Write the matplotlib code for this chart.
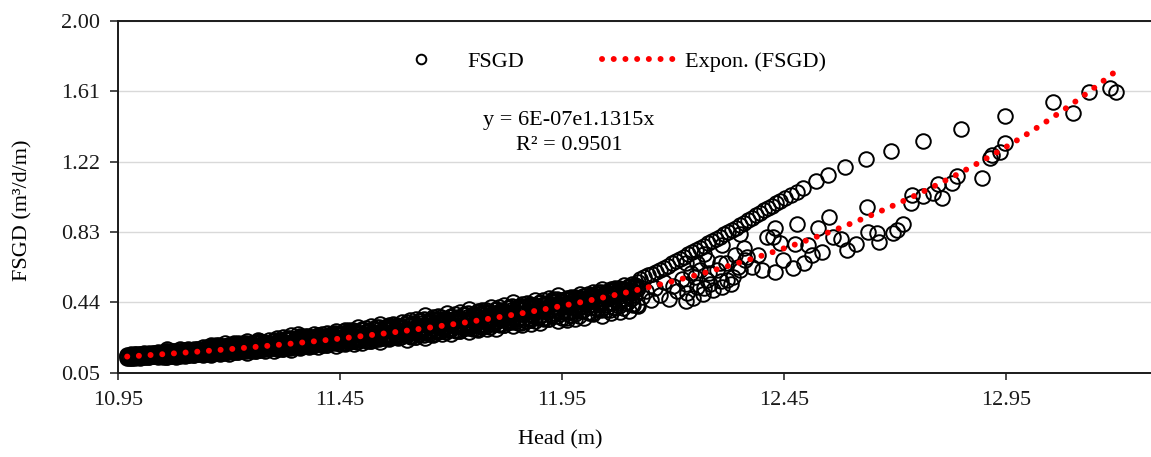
import matplotlib.pyplot as plt
import numpy as np

# dense part of the cloud (10.97 - 12.12 m), read as upper edge / middle / lower edge rows
band_head = [
    10.97, 10.98, 10.99, 11.00, 11.01, 11.02, 11.03, 11.04, 11.05, 11.06,
    11.07, 11.08, 11.09, 11.10, 11.11, 11.12, 11.13, 11.14, 11.15, 11.16,
    11.17, 11.18, 11.19, 11.20, 11.21, 11.22, 11.23, 11.24, 11.25, 11.26,
    11.27, 11.28, 11.29, 11.30, 11.31, 11.32, 11.33, 11.34, 11.35, 11.36,
    11.37, 11.38, 11.39, 11.40, 11.41, 11.42, 11.43, 11.44, 11.45, 11.46,
    11.47, 11.48, 11.49, 11.50, 11.51, 11.52, 11.53, 11.54, 11.55, 11.56,
    11.57, 11.58, 11.59, 11.60, 11.61, 11.62, 11.63, 11.64, 11.65, 11.66,
    11.67, 11.68, 11.69, 11.70, 11.71, 11.72, 11.73, 11.74, 11.75, 11.76,
    11.77, 11.78, 11.79, 11.80, 11.81, 11.82, 11.83, 11.84, 11.85, 11.86,
    11.87, 11.88, 11.89, 11.90, 11.91, 11.92, 11.93, 11.94, 11.95, 11.96,
    11.97, 11.98, 11.99, 12.00, 12.01, 12.02, 12.03, 12.04, 12.05, 12.06,
    12.07, 12.08, 12.09, 12.10, 12.11, 12.12,
]
band_hi = [
    0.149, 0.148, 0.155, 0.153, 0.151, 0.159, 0.158, 0.164, 0.164, 0.170,
    0.172, 0.169, 0.179, 0.175, 0.172, 0.183, 0.181, 0.190, 0.191, 0.200,
    0.201, 0.195, 0.211, 0.203, 0.198, 0.214, 0.211, 0.224, 0.211, 0.220,
    0.222, 0.216, 0.232, 0.232, 0.225, 0.245, 0.240, 0.257, 0.240, 0.251,
    0.254, 0.245, 0.266, 0.256, 0.249, 0.270, 0.265, 0.282, 0.271, 0.285,
    0.288, 0.277, 0.302, 0.290, 0.281, 0.306, 0.300, 0.321, 0.300, 0.314,
    0.317, 0.307, 0.332, 0.329, 0.319, 0.349, 0.342, 0.367, 0.340, 0.357,
    0.361, 0.348, 0.379, 0.363, 0.353, 0.384, 0.377, 0.402, 0.376, 0.393,
    0.397, 0.385, 0.416, 0.401, 0.391, 0.423, 0.416, 0.442, 0.412, 0.429,
    0.433, 0.423, 0.452, 0.439, 0.431, 0.461, 0.455, 0.480, 0.449, 0.463,
    0.468, 0.461, 0.486, 0.477, 0.472, 0.497, 0.494, 0.515, 0.499, 0.514,
    0.520, 0.513, 0.538, 0.530, 0.526, 0.552,
]
band_mid = [
    0.141, 0.137, 0.146, 0.143, 0.143, 0.150, 0.149, 0.145, 0.160, 0.152,
    0.158, 0.152, 0.165, 0.160, 0.159, 0.169, 0.168, 0.161, 0.184, 0.169,
    0.179, 0.167, 0.189, 0.180, 0.176, 0.192, 0.189, 0.177, 0.204, 0.189,
    0.200, 0.188, 0.210, 0.201, 0.196, 0.217, 0.212, 0.196, 0.231, 0.212,
    0.225, 0.209, 0.237, 0.225, 0.220, 0.241, 0.237, 0.221, 0.260, 0.237,
    0.253, 0.233, 0.267, 0.252, 0.246, 0.271, 0.265, 0.246, 0.289, 0.265,
    0.282, 0.263, 0.297, 0.282, 0.275, 0.305, 0.298, 0.273, 0.326, 0.297,
    0.317, 0.293, 0.335, 0.316, 0.309, 0.340, 0.333, 0.309, 0.362, 0.333,
    0.353, 0.330, 0.372, 0.354, 0.347, 0.379, 0.372, 0.349, 0.400, 0.374,
    0.393, 0.373, 0.412, 0.397, 0.391, 0.421, 0.415, 0.395, 0.439, 0.420,
    0.437, 0.422, 0.455, 0.444, 0.441, 0.466, 0.463, 0.449, 0.489, 0.471,
    0.488, 0.474, 0.507, 0.497, 0.495, 0.520,
]
band_lo = [
    0.130, 0.128, 0.135, 0.130, 0.135, 0.136, 0.140, 0.136, 0.137, 0.135,
    0.141, 0.138, 0.148, 0.140, 0.147, 0.147, 0.154, 0.146, 0.151, 0.149,
    0.156, 0.151, 0.164, 0.153, 0.162, 0.162, 0.170, 0.159, 0.171, 0.169,
    0.177, 0.172, 0.186, 0.168, 0.178, 0.178, 0.188, 0.174, 0.189, 0.186,
    0.195, 0.189, 0.206, 0.192, 0.202, 0.202, 0.213, 0.199, 0.210, 0.206,
    0.217, 0.210, 0.230, 0.213, 0.225, 0.225, 0.238, 0.221, 0.239, 0.235,
    0.247, 0.240, 0.259, 0.232, 0.248, 0.247, 0.263, 0.241, 0.263, 0.258,
    0.272, 0.263, 0.287, 0.266, 0.282, 0.281, 0.298, 0.276, 0.292, 0.286,
    0.302, 0.291, 0.320, 0.294, 0.313, 0.312, 0.331, 0.306, 0.323, 0.315,
    0.335, 0.321, 0.356, 0.323, 0.346, 0.345, 0.368, 0.336, 0.353, 0.343,
    0.367, 0.348, 0.392, 0.350, 0.379, 0.376, 0.405, 0.363, 0.394, 0.382,
    0.409, 0.388, 0.438, 0.390, 0.423, 0.420,
]

# the same band, readings that fall between the ones above
band_head2 = [
    10.975, 10.985, 10.995, 11.005, 11.015, 11.025, 11.035, 11.045, 11.055, 11.065,
    11.075, 11.085, 11.095, 11.105, 11.115, 11.125, 11.135, 11.145, 11.155, 11.165,
    11.175, 11.185, 11.195, 11.205, 11.215, 11.225, 11.235, 11.245, 11.255, 11.265,
    11.275, 11.285, 11.295, 11.305, 11.315, 11.325, 11.335, 11.345, 11.355, 11.365,
    11.375, 11.385, 11.395, 11.405, 11.415, 11.425, 11.435, 11.445, 11.455, 11.465,
    11.475, 11.485, 11.495, 11.505, 11.515, 11.525, 11.535, 11.545, 11.555, 11.565,
    11.575, 11.585, 11.595, 11.605, 11.615, 11.625, 11.635, 11.645, 11.655, 11.665,
    11.675, 11.685, 11.695, 11.705, 11.715, 11.725, 11.735, 11.745, 11.755, 11.765,
    11.775, 11.785, 11.795, 11.805, 11.815, 11.825, 11.835, 11.845, 11.855, 11.865,
    11.875, 11.885, 11.895, 11.905, 11.915, 11.925, 11.935, 11.945, 11.955, 11.965,
    11.975, 11.985, 11.995, 12.005, 12.015, 12.025, 12.035, 12.045, 12.055, 12.065,
    12.075, 12.085, 12.095, 12.105, 12.115,
]
band_q_hi = [
    0.144, 0.147, 0.146, 0.150, 0.153, 0.152, 0.155, 0.153, 0.161, 0.165,
    0.164, 0.168, 0.165, 0.170, 0.175, 0.172, 0.176, 0.173, 0.185, 0.191,
    0.187, 0.193, 0.187, 0.195, 0.202, 0.196, 0.202, 0.196, 0.205, 0.211,
    0.208, 0.214, 0.208, 0.220, 0.230, 0.221, 0.229, 0.221, 0.232, 0.240,
    0.235, 0.243, 0.235, 0.245, 0.254, 0.246, 0.254, 0.246, 0.262, 0.271,
    0.265, 0.274, 0.264, 0.276, 0.287, 0.277, 0.287, 0.276, 0.290, 0.300,
    0.294, 0.304, 0.294, 0.312, 0.326, 0.312, 0.324, 0.311, 0.328, 0.340,
    0.332, 0.344, 0.331, 0.346, 0.360, 0.347, 0.359, 0.347, 0.364, 0.376,
    0.369, 0.381, 0.369, 0.384, 0.399, 0.386, 0.399, 0.386, 0.402, 0.414,
    0.408, 0.420, 0.409, 0.424, 0.438, 0.428, 0.440, 0.430, 0.442, 0.452,
    0.449, 0.460, 0.453, 0.466, 0.479, 0.472, 0.483, 0.477, 0.492, 0.503,
    0.501, 0.512, 0.506, 0.520, 0.533,
]
band_q_lo = [
    0.133, 0.137, 0.135, 0.139, 0.142, 0.141, 0.144, 0.143, 0.146, 0.146,
    0.147, 0.152, 0.148, 0.154, 0.158, 0.155, 0.158, 0.157, 0.162, 0.162,
    0.162, 0.169, 0.164, 0.171, 0.176, 0.172, 0.176, 0.174, 0.182, 0.182,
    0.183, 0.190, 0.186, 0.190, 0.196, 0.190, 0.195, 0.192, 0.203, 0.202,
    0.204, 0.212, 0.206, 0.214, 0.221, 0.215, 0.220, 0.217, 0.227, 0.226,
    0.227, 0.236, 0.229, 0.239, 0.247, 0.240, 0.246, 0.242, 0.255, 0.255,
    0.256, 0.266, 0.259, 0.265, 0.275, 0.265, 0.273, 0.268, 0.284, 0.283,
    0.284, 0.296, 0.287, 0.299, 0.309, 0.300, 0.308, 0.303, 0.317, 0.315,
    0.317, 0.331, 0.320, 0.334, 0.345, 0.334, 0.343, 0.338, 0.353, 0.351,
    0.352, 0.369, 0.355, 0.371, 0.385, 0.371, 0.382, 0.375, 0.391, 0.388,
    0.389, 0.409, 0.391, 0.411, 0.428, 0.410, 0.423, 0.413, 0.437, 0.433,
    0.434, 0.458, 0.437, 0.460, 0.479,
]

# and a third set of band readings
band_head3 = [
    10.978, 10.988, 10.998, 11.008, 11.018, 11.028, 11.038, 11.048, 11.058, 11.068,
    11.078, 11.088, 11.098, 11.108, 11.118, 11.128, 11.138, 11.148, 11.158, 11.168,
    11.178, 11.188, 11.198, 11.208, 11.218, 11.228, 11.238, 11.248, 11.258, 11.268,
    11.278, 11.288, 11.298, 11.308, 11.318, 11.328, 11.338, 11.348, 11.358, 11.368,
    11.378, 11.388, 11.398, 11.408, 11.418, 11.428, 11.438, 11.448, 11.458, 11.468,
    11.478, 11.488, 11.498, 11.508, 11.518, 11.528, 11.538, 11.548, 11.558, 11.568,
    11.578, 11.588, 11.598, 11.608, 11.618, 11.628, 11.638, 11.648, 11.658, 11.668,
    11.678, 11.688, 11.698, 11.708, 11.718, 11.728, 11.738, 11.748, 11.758, 11.768,
    11.778, 11.788, 11.798, 11.808, 11.818, 11.828, 11.838, 11.848, 11.858, 11.868,
    11.878, 11.888, 11.898, 11.908, 11.918, 11.928, 11.938, 11.948, 11.958, 11.968,
    11.978, 11.988, 11.998, 12.008, 12.018, 12.028, 12.038, 12.048, 12.058, 12.068,
    12.078, 12.088, 12.098, 12.108, 12.118,
]
band_r_hi = [
    0.152, 0.150, 0.154, 0.156, 0.152, 0.156, 0.160, 0.159, 0.167, 0.167,
    0.171, 0.169, 0.174, 0.179, 0.173, 0.178, 0.183, 0.181, 0.195, 0.193,
    0.200, 0.195, 0.202, 0.209, 0.199, 0.207, 0.213, 0.209, 0.215, 0.214,
    0.221, 0.216, 0.223, 0.239, 0.225, 0.235, 0.243, 0.237, 0.245, 0.243,
    0.251, 0.245, 0.254, 0.263, 0.250, 0.260, 0.268, 0.262, 0.278, 0.275,
    0.285, 0.277, 0.287, 0.298, 0.282, 0.294, 0.304, 0.296, 0.306, 0.304,
    0.314, 0.307, 0.317, 0.340, 0.319, 0.333, 0.345, 0.335, 0.348, 0.345,
    0.357, 0.347, 0.360, 0.374, 0.354, 0.368, 0.381, 0.371, 0.384, 0.381,
    0.394, 0.385, 0.397, 0.412, 0.392, 0.407, 0.420, 0.411, 0.420, 0.418,
    0.431, 0.423, 0.436, 0.450, 0.433, 0.447, 0.460, 0.453, 0.456, 0.456,
    0.467, 0.463, 0.474, 0.487, 0.475, 0.488, 0.499, 0.495, 0.507, 0.508,
    0.519, 0.516, 0.527, 0.541, 0.529,
]
band_r_mid = [
    0.141, 0.140, 0.144, 0.144, 0.148, 0.145, 0.150, 0.153, 0.151, 0.156,
    0.159, 0.156, 0.161, 0.161, 0.167, 0.162, 0.167, 0.172, 0.168, 0.175,
    0.179, 0.173, 0.181, 0.180, 0.189, 0.179, 0.187, 0.194, 0.189, 0.196,
    0.200, 0.194, 0.202, 0.201, 0.212, 0.199, 0.210, 0.218, 0.211, 0.220,
    0.224, 0.217, 0.227, 0.225, 0.237, 0.224, 0.235, 0.243, 0.236, 0.247,
    0.252, 0.242, 0.254, 0.252, 0.266, 0.250, 0.263, 0.273, 0.265, 0.276,
    0.281, 0.272, 0.284, 0.282, 0.299, 0.279, 0.295, 0.306, 0.296, 0.309,
    0.315, 0.304, 0.318, 0.316, 0.334, 0.314, 0.330, 0.342, 0.332, 0.346,
    0.352, 0.341, 0.356, 0.355, 0.372, 0.353, 0.370, 0.382, 0.373, 0.386,
    0.393, 0.384, 0.398, 0.398, 0.415, 0.398, 0.414, 0.426, 0.420, 0.431,
    0.438, 0.432, 0.445, 0.446, 0.461, 0.450, 0.464, 0.475, 0.470, 0.482,
    0.490, 0.485, 0.498, 0.500, 0.515,
]
band_r_lo = [
    0.132, 0.131, 0.136, 0.136, 0.136, 0.140, 0.140, 0.145, 0.138, 0.142,
    0.144, 0.143, 0.150, 0.148, 0.147, 0.154, 0.153, 0.160, 0.152, 0.156,
    0.159, 0.157, 0.166, 0.164, 0.162, 0.170, 0.169, 0.177, 0.172, 0.177,
    0.180, 0.178, 0.187, 0.181, 0.178, 0.189, 0.186, 0.197, 0.190, 0.196,
    0.199, 0.196, 0.208, 0.205, 0.203, 0.214, 0.212, 0.222, 0.212, 0.218,
    0.222, 0.218, 0.232, 0.228, 0.226, 0.238, 0.236, 0.248, 0.240, 0.247,
    0.252, 0.248, 0.262, 0.251, 0.248, 0.263, 0.259, 0.275, 0.265, 0.273,
    0.278, 0.273, 0.290, 0.286, 0.282, 0.298, 0.295, 0.310, 0.294, 0.303,
    0.309, 0.303, 0.323, 0.317, 0.313, 0.332, 0.328, 0.346, 0.324, 0.336,
    0.343, 0.335, 0.359, 0.351, 0.346, 0.368, 0.363, 0.384, 0.355, 0.369,
    0.377, 0.366, 0.396, 0.386, 0.378, 0.405, 0.398, 0.425, 0.396, 0.412,
    0.421, 0.409, 0.443, 0.431, 0.422,
]

# upper branch above 12.1 m
upper_head = [
    12.126, 12.135, 12.144, 12.153, 12.162, 12.171, 12.180, 12.189, 12.198, 12.207,
    12.216, 12.225, 12.234, 12.243, 12.252, 12.261, 12.270, 12.279, 12.288, 12.297,
    12.306, 12.315, 12.324, 12.333, 12.342, 12.351, 12.360, 12.369, 12.378, 12.387,
    12.396, 12.405, 12.414, 12.423, 12.432, 12.441, 12.452, 12.466, 12.479, 12.493,
    12.522, 12.549, 12.587, 12.635, 12.691, 12.763, 12.849, 12.948, 13.056, 13.137,
    13.185, 13.198,
]
upper_fsgd = [
    0.569, 0.580, 0.591, 0.599, 0.608, 0.619, 0.630, 0.641, 0.655, 0.666,
    0.680, 0.691, 0.705, 0.716, 0.730, 0.741, 0.752, 0.766, 0.777, 0.791,
    0.802, 0.816, 0.830, 0.841, 0.854, 0.868, 0.882, 0.896, 0.907, 0.921,
    0.935, 0.949, 0.963, 0.976, 0.990, 1.001, 1.018, 1.035, 1.051, 1.074,
    1.112, 1.146, 1.190, 1.234, 1.279, 1.334, 1.401, 1.473, 1.551, 1.606,
    1.628, 1.606,
]

# scattered points under the upper branch, plus a few stray ones along the band
lower_head = [
    13.101, 12.948, 12.937, 12.918, 12.914, 12.896, 12.839, 12.828, 12.805, 12.798,
    12.785, 12.764, 12.738, 12.736, 12.719, 12.704, 12.696, 12.638, 12.640, 12.660,
    12.663, 12.612, 12.591, 12.578, 12.561, 12.552, 12.527, 12.535, 12.512, 12.505,
    12.479, 12.494, 12.475, 12.471, 12.448, 12.430, 12.426, 12.430,
    12.231, 12.253, 12.276, 12.291, 12.310, 12.321, 12.336, 12.351, 12.366, 12.392,
    12.411, 12.441, 12.253, 12.276, 12.306,
    12.401, 12.378, 12.362, 12.346, 12.330, 12.308, 12.283, 12.267, 12.245, 12.229,
    12.13, 12.14, 12.15, 12.16, 12.17, 12.18, 12.19, 12.20, 12.21, 12.22,
    12.23, 12.24, 12.25, 12.26, 12.28, 12.30, 12.32, 12.34, 12.36, 12.27,
    12.23, 12.27, 12.31, 12.35,
    11.06, 11.21, 11.264, 11.354,
]
lower_fsgd = [
    1.488, 1.322, 1.275, 1.257, 1.238, 1.131, 1.140, 1.100, 1.016, 1.096,
    1.048, 1.029, 1.035, 0.989, 0.874, 0.841, 0.826, 0.970, 0.831, 0.826,
    0.776, 0.763, 0.730, 0.789, 0.803, 0.914, 0.850, 0.720, 0.702, 0.757,
    0.874, 0.656, 0.761, 0.628, 0.674, 0.850, 0.803, 0.609,
    0.489, 0.526, 0.563, 0.508, 0.526, 0.563, 0.582, 0.619, 0.692, 0.702,
    0.803, 0.767, 0.656, 0.674, 0.656,
    0.619, 0.635, 0.674, 0.635, 0.541, 0.558, 0.541, 0.486, 0.463, 0.447,
    0.47, 0.50, 0.45, 0.52, 0.48, 0.55, 0.46, 0.53, 0.50, 0.57,
    0.54, 0.60, 0.58, 0.62, 0.60, 0.62, 0.66, 0.70, 0.74, 0.52,
    0.66, 0.71, 0.76, 0.82,
    0.178, 0.212, 0.232, 0.262,
]

# Excel exponential trendline (b from the label, a from where the curve sits)
trend_a = 5.63e-7
trend_b = 1.1315

x_ticks = [10.95, 11.45, 11.95, 12.45, 12.95]
y_ticks = [0.05, 0.44, 0.83, 1.22, 1.61, 2.00]

plt.rcParams["font.family"] = ["Liberation Serif", "DejaVu Serif"]
plt.rcParams["font.size"] = 16

W, H = 1151, 457
fig = plt.figure(figsize=(W / 100, H / 100), dpi=100)
# plot area in pixels: left spine 118, x axis at 372.5, top line at 21, runs off the right edge
ax = fig.add_axes([118.3 / W, 1 - 372.5 / H, (W - 118.3) / W, (372.5 - 21) / H])

head = np.concatenate(
    [band_head] * 3 + [band_head2] * 2 + [band_head3] * 3 + [upper_head, lower_head]
)
fsgd = np.concatenate(
    [band_hi, band_mid, band_lo, band_q_hi, band_q_lo, band_r_hi, band_r_mid, band_r_lo,
     upper_fsgd, lower_fsgd]
)

ax.plot(
    head,
    fsgd,
    linestyle="none",
    marker="o",
    markersize=10.5,
    markerfacecolor="none",
    markeredgecolor="black",
    markeredgewidth=1.4,
    label="FSGD",
    zorder=2,
)

trend_x = np.linspace(head.min(), head.max(), 400)
trend_y = trend_a * np.exp(trend_b * trend_x)
ax.plot(
    trend_x,
    trend_y,
    color="#ff0000",
    linewidth=4.3,
    linestyle=(0, (0.01, 1.95)),
    dash_capstyle="round",
    label="Expon. (FSGD)",
    zorder=3,
)

ax.set_xlim(10.95, 10.95 + (W - 118.3) / 443.8)
ax.set_ylim(0.05, 2.00)
ax.set_xticks(x_ticks)
ax.set_xticklabels([f"{v:.2f}" for v in x_ticks])
ax.set_yticks(y_ticks)
ax.set_yticklabels([f"{v:.2f}" for v in y_ticks])

ax.yaxis.grid(True, color="#d9d9d9", linewidth=1.0)
ax.set_axisbelow(True)
ax.spines["right"].set_visible(False)
for side in ["left", "bottom", "top"]:
    ax.spines[side].set_color("#1a1a1a")
    ax.spines[side].set_linewidth(1.4)
ax.tick_params(axis="x", direction="out", length=5, width=1.1, pad=8, colors="#1a1a1a")
ax.tick_params(axis="y", direction="out", length=5.5, width=1.1, pad=7.5, colors="#1a1a1a")
ax.tick_params(top=False, right=False)

fig.text(23 / W, 1 - 210 / H, "FSGD (m³/d/m)", rotation=90, ha="center", va="center")
fig.text(560 / W, 1 - 440 / H, "Head (m)", ha="center", va="center")
fig.text(569 / W, 1 - 120 / H, "y = 6E-07e1.1315x", ha="center", va="center")
fig.text(569 / W, 1 - 145 / H, "R² = 0.9501", ha="center", va="center")

ax.legend(
    loc="center",
    bbox_to_anchor=(605 / W, 1 - 62 / H),
    bbox_transform=fig.transFigure,
    ncol=2,
    frameon=False,
    handlelength=3.3,
    handletextpad=0.45,
    columnspacing=3.5,
    markerscale=0.66,
    borderaxespad=0,
    borderpad=0,
)

fig.savefig("out.png", dpi=100)
